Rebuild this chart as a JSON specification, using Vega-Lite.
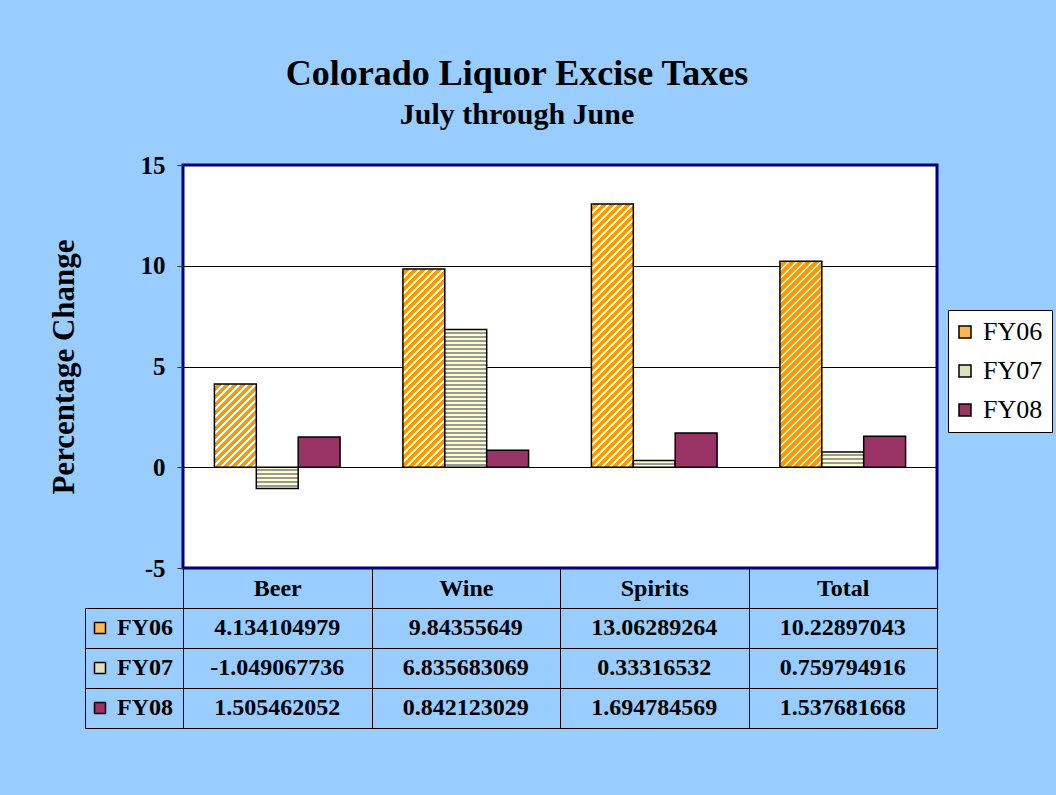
{
  "$schema": "https://vega.github.io/schema/vega-lite/v6.json",
  "background": "#99CCFF",
  "padding": {"left": 46, "top": 55, "right": 20, "bottom": 80},
  "bounds": "flush",
  "spacing": 40,
  "params": [
    {"name": "s06", "value": [
      {"offset":0,"color":"#fff"},{"offset":0.009,"color":"#fff"},{"offset":0.009,"color":"#f90"},{"offset":0.025,"color":"#f90"},
      {"offset":0.025,"color":"#fff"},{"offset":0.034,"color":"#fff"},{"offset":0.034,"color":"#f90"},{"offset":0.05,"color":"#f90"},
      {"offset":0.05,"color":"#fff"},{"offset":0.059,"color":"#fff"},{"offset":0.059,"color":"#f90"},{"offset":0.075,"color":"#f90"},
      {"offset":0.075,"color":"#fff"},{"offset":0.084,"color":"#fff"},{"offset":0.084,"color":"#f90"},{"offset":0.1,"color":"#f90"},
      {"offset":0.1,"color":"#fff"},{"offset":0.109,"color":"#fff"},{"offset":0.109,"color":"#f90"},{"offset":0.125,"color":"#f90"},
      {"offset":0.125,"color":"#fff"},{"offset":0.134,"color":"#fff"},{"offset":0.134,"color":"#f90"},{"offset":0.15,"color":"#f90"},
      {"offset":0.15,"color":"#fff"},{"offset":0.159,"color":"#fff"},{"offset":0.159,"color":"#f90"},{"offset":0.175,"color":"#f90"},
      {"offset":0.175,"color":"#fff"},{"offset":0.184,"color":"#fff"},{"offset":0.184,"color":"#f90"},{"offset":0.2,"color":"#f90"},
      {"offset":0.2,"color":"#fff"},{"offset":0.209,"color":"#fff"},{"offset":0.209,"color":"#f90"},{"offset":0.225,"color":"#f90"},
      {"offset":0.225,"color":"#fff"},{"offset":0.234,"color":"#fff"},{"offset":0.234,"color":"#f90"},{"offset":0.25,"color":"#f90"},
      {"offset":0.25,"color":"#fff"},{"offset":0.259,"color":"#fff"},{"offset":0.259,"color":"#f90"},{"offset":0.275,"color":"#f90"},
      {"offset":0.275,"color":"#fff"},{"offset":0.284,"color":"#fff"},{"offset":0.284,"color":"#f90"},{"offset":0.3,"color":"#f90"},
      {"offset":0.3,"color":"#fff"},{"offset":0.309,"color":"#fff"},{"offset":0.309,"color":"#f90"},{"offset":0.325,"color":"#f90"},
      {"offset":0.325,"color":"#fff"},{"offset":0.334,"color":"#fff"},{"offset":0.334,"color":"#f90"},{"offset":0.35,"color":"#f90"},
      {"offset":0.35,"color":"#fff"},{"offset":0.359,"color":"#fff"},{"offset":0.359,"color":"#f90"},{"offset":0.375,"color":"#f90"},
      {"offset":0.375,"color":"#fff"},{"offset":0.384,"color":"#fff"},{"offset":0.384,"color":"#f90"},{"offset":0.4,"color":"#f90"},
      {"offset":0.4,"color":"#fff"},{"offset":0.409,"color":"#fff"},{"offset":0.409,"color":"#f90"},{"offset":0.425,"color":"#f90"},
      {"offset":0.425,"color":"#fff"},{"offset":0.434,"color":"#fff"},{"offset":0.434,"color":"#f90"},{"offset":0.45,"color":"#f90"},
      {"offset":0.45,"color":"#fff"},{"offset":0.459,"color":"#fff"},{"offset":0.459,"color":"#f90"},{"offset":0.475,"color":"#f90"},
      {"offset":0.475,"color":"#fff"},{"offset":0.484,"color":"#fff"},{"offset":0.484,"color":"#f90"},{"offset":0.5,"color":"#f90"},
      {"offset":0.5,"color":"#fff"},{"offset":0.509,"color":"#fff"},{"offset":0.509,"color":"#f90"},{"offset":0.525,"color":"#f90"},
      {"offset":0.525,"color":"#fff"},{"offset":0.534,"color":"#fff"},{"offset":0.534,"color":"#f90"},{"offset":0.55,"color":"#f90"},
      {"offset":0.55,"color":"#fff"},{"offset":0.559,"color":"#fff"},{"offset":0.559,"color":"#f90"},{"offset":0.575,"color":"#f90"},
      {"offset":0.575,"color":"#fff"},{"offset":0.584,"color":"#fff"},{"offset":0.584,"color":"#f90"},{"offset":0.6,"color":"#f90"},
      {"offset":0.6,"color":"#fff"},{"offset":0.609,"color":"#fff"},{"offset":0.609,"color":"#f90"},{"offset":0.625,"color":"#f90"},
      {"offset":0.625,"color":"#fff"},{"offset":0.634,"color":"#fff"},{"offset":0.634,"color":"#f90"},{"offset":0.65,"color":"#f90"},
      {"offset":0.65,"color":"#fff"},{"offset":0.659,"color":"#fff"},{"offset":0.659,"color":"#f90"},{"offset":0.675,"color":"#f90"},
      {"offset":0.675,"color":"#fff"},{"offset":0.684,"color":"#fff"},{"offset":0.684,"color":"#f90"},{"offset":0.7,"color":"#f90"},
      {"offset":0.7,"color":"#fff"},{"offset":0.709,"color":"#fff"},{"offset":0.709,"color":"#f90"},{"offset":0.725,"color":"#f90"},
      {"offset":0.725,"color":"#fff"},{"offset":0.734,"color":"#fff"},{"offset":0.734,"color":"#f90"},{"offset":0.75,"color":"#f90"},
      {"offset":0.75,"color":"#fff"},{"offset":0.759,"color":"#fff"},{"offset":0.759,"color":"#f90"},{"offset":0.775,"color":"#f90"},
      {"offset":0.775,"color":"#fff"},{"offset":0.784,"color":"#fff"},{"offset":0.784,"color":"#f90"},{"offset":0.8,"color":"#f90"},
      {"offset":0.8,"color":"#fff"},{"offset":0.809,"color":"#fff"},{"offset":0.809,"color":"#f90"},{"offset":0.825,"color":"#f90"},
      {"offset":0.825,"color":"#fff"},{"offset":0.834,"color":"#fff"},{"offset":0.834,"color":"#f90"},{"offset":0.85,"color":"#f90"},
      {"offset":0.85,"color":"#fff"},{"offset":0.859,"color":"#fff"},{"offset":0.859,"color":"#f90"},{"offset":0.875,"color":"#f90"},
      {"offset":0.875,"color":"#fff"},{"offset":0.884,"color":"#fff"},{"offset":0.884,"color":"#f90"},{"offset":0.9,"color":"#f90"},
      {"offset":0.9,"color":"#fff"},{"offset":0.909,"color":"#fff"},{"offset":0.909,"color":"#f90"},{"offset":0.925,"color":"#f90"},
      {"offset":0.925,"color":"#fff"},{"offset":0.934,"color":"#fff"},{"offset":0.934,"color":"#f90"},{"offset":0.95,"color":"#f90"},
      {"offset":0.95,"color":"#fff"},{"offset":0.959,"color":"#fff"},{"offset":0.959,"color":"#f90"},{"offset":0.975,"color":"#f90"},
      {"offset":0.975,"color":"#fff"},{"offset":0.984,"color":"#fff"},{"offset":0.984,"color":"#f90"},{"offset":1,"color":"#f90"}
    ]},
    {"name": "s07", "value": [
      {"offset":0,"color":"#ffc"},{"offset":0.0135,"color":"#ffc"},{"offset":0.0135,"color":"#999"},{"offset":0.025,"color":"#999"},
      {"offset":0.025,"color":"#ffc"},{"offset":0.0385,"color":"#ffc"},{"offset":0.0385,"color":"#999"},{"offset":0.05,"color":"#999"},
      {"offset":0.05,"color":"#ffc"},{"offset":0.0635,"color":"#ffc"},{"offset":0.0635,"color":"#999"},{"offset":0.075,"color":"#999"},
      {"offset":0.075,"color":"#ffc"},{"offset":0.0885,"color":"#ffc"},{"offset":0.0885,"color":"#999"},{"offset":0.1,"color":"#999"},
      {"offset":0.1,"color":"#ffc"},{"offset":0.1135,"color":"#ffc"},{"offset":0.1135,"color":"#999"},{"offset":0.125,"color":"#999"},
      {"offset":0.125,"color":"#ffc"},{"offset":0.1385,"color":"#ffc"},{"offset":0.1385,"color":"#999"},{"offset":0.15,"color":"#999"},
      {"offset":0.15,"color":"#ffc"},{"offset":0.1635,"color":"#ffc"},{"offset":0.1635,"color":"#999"},{"offset":0.175,"color":"#999"},
      {"offset":0.175,"color":"#ffc"},{"offset":0.1885,"color":"#ffc"},{"offset":0.1885,"color":"#999"},{"offset":0.2,"color":"#999"},
      {"offset":0.2,"color":"#ffc"},{"offset":0.2135,"color":"#ffc"},{"offset":0.2135,"color":"#999"},{"offset":0.225,"color":"#999"},
      {"offset":0.225,"color":"#ffc"},{"offset":0.2385,"color":"#ffc"},{"offset":0.2385,"color":"#999"},{"offset":0.25,"color":"#999"},
      {"offset":0.25,"color":"#ffc"},{"offset":0.2635,"color":"#ffc"},{"offset":0.2635,"color":"#999"},{"offset":0.275,"color":"#999"},
      {"offset":0.275,"color":"#ffc"},{"offset":0.2885,"color":"#ffc"},{"offset":0.2885,"color":"#999"},{"offset":0.3,"color":"#999"},
      {"offset":0.3,"color":"#ffc"},{"offset":0.3135,"color":"#ffc"},{"offset":0.3135,"color":"#999"},{"offset":0.325,"color":"#999"},
      {"offset":0.325,"color":"#ffc"},{"offset":0.3385,"color":"#ffc"},{"offset":0.3385,"color":"#999"},{"offset":0.35,"color":"#999"},
      {"offset":0.35,"color":"#ffc"},{"offset":0.3635,"color":"#ffc"},{"offset":0.3635,"color":"#999"},{"offset":0.375,"color":"#999"},
      {"offset":0.375,"color":"#ffc"},{"offset":0.3885,"color":"#ffc"},{"offset":0.3885,"color":"#999"},{"offset":0.4,"color":"#999"},
      {"offset":0.4,"color":"#ffc"},{"offset":0.4135,"color":"#ffc"},{"offset":0.4135,"color":"#999"},{"offset":0.425,"color":"#999"},
      {"offset":0.425,"color":"#ffc"},{"offset":0.4385,"color":"#ffc"},{"offset":0.4385,"color":"#999"},{"offset":0.45,"color":"#999"},
      {"offset":0.45,"color":"#ffc"},{"offset":0.4635,"color":"#ffc"},{"offset":0.4635,"color":"#999"},{"offset":0.475,"color":"#999"},
      {"offset":0.475,"color":"#ffc"},{"offset":0.4885,"color":"#ffc"},{"offset":0.4885,"color":"#999"},{"offset":0.5,"color":"#999"},
      {"offset":0.5,"color":"#ffc"},{"offset":0.5135,"color":"#ffc"},{"offset":0.5135,"color":"#999"},{"offset":0.525,"color":"#999"},
      {"offset":0.525,"color":"#ffc"},{"offset":0.5385,"color":"#ffc"},{"offset":0.5385,"color":"#999"},{"offset":0.55,"color":"#999"},
      {"offset":0.55,"color":"#ffc"},{"offset":0.5635,"color":"#ffc"},{"offset":0.5635,"color":"#999"},{"offset":0.575,"color":"#999"},
      {"offset":0.575,"color":"#ffc"},{"offset":0.5885,"color":"#ffc"},{"offset":0.5885,"color":"#999"},{"offset":0.6,"color":"#999"},
      {"offset":0.6,"color":"#ffc"},{"offset":0.6135,"color":"#ffc"},{"offset":0.6135,"color":"#999"},{"offset":0.625,"color":"#999"},
      {"offset":0.625,"color":"#ffc"},{"offset":0.6385,"color":"#ffc"},{"offset":0.6385,"color":"#999"},{"offset":0.65,"color":"#999"},
      {"offset":0.65,"color":"#ffc"},{"offset":0.6635,"color":"#ffc"},{"offset":0.6635,"color":"#999"},{"offset":0.675,"color":"#999"},
      {"offset":0.675,"color":"#ffc"},{"offset":0.6885,"color":"#ffc"},{"offset":0.6885,"color":"#999"},{"offset":0.7,"color":"#999"},
      {"offset":0.7,"color":"#ffc"},{"offset":0.7135,"color":"#ffc"},{"offset":0.7135,"color":"#999"},{"offset":0.725,"color":"#999"},
      {"offset":0.725,"color":"#ffc"},{"offset":0.7385,"color":"#ffc"},{"offset":0.7385,"color":"#999"},{"offset":0.75,"color":"#999"},
      {"offset":0.75,"color":"#ffc"},{"offset":0.7635,"color":"#ffc"},{"offset":0.7635,"color":"#999"},{"offset":0.775,"color":"#999"},
      {"offset":0.775,"color":"#ffc"},{"offset":0.7885,"color":"#ffc"},{"offset":0.7885,"color":"#999"},{"offset":0.8,"color":"#999"},
      {"offset":0.8,"color":"#ffc"},{"offset":0.8135,"color":"#ffc"},{"offset":0.8135,"color":"#999"},{"offset":0.825,"color":"#999"},
      {"offset":0.825,"color":"#ffc"},{"offset":0.8385,"color":"#ffc"},{"offset":0.8385,"color":"#999"},{"offset":0.85,"color":"#999"},
      {"offset":0.85,"color":"#ffc"},{"offset":0.8635,"color":"#ffc"},{"offset":0.8635,"color":"#999"},{"offset":0.875,"color":"#999"},
      {"offset":0.875,"color":"#ffc"},{"offset":0.8885,"color":"#ffc"},{"offset":0.8885,"color":"#999"},{"offset":0.9,"color":"#999"}
    ]},
    {"name": "sw06", "value": {"gradient": "linear", "x1": 0, "y1": 0, "x2": 1, "y2": 1, "stops": [
      {"offset":0,"color":"#f90"},{"offset":0.42,"color":"#f90"},{"offset":0.42,"color":"#fff"},{"offset":0.6,"color":"#fff"},{"offset":0.6,"color":"#f90"},{"offset":1,"color":"#f90"}
    ]}},
    {"name": "sw07", "value": {"gradient": "linear", "x1": 0, "y1": 0, "x2": 0, "y2": 1, "stops": [
      {"offset":0,"color":"#ffc"},{"offset":0.25,"color":"#ffc"},{"offset":0.25,"color":"#999"},{"offset":0.42,"color":"#999"},{"offset":0.42,"color":"#ffc"},{"offset":0.66,"color":"#ffc"},{"offset":0.66,"color":"#999"},{"offset":0.83,"color":"#999"},{"offset":0.83,"color":"#ffc"},{"offset":1,"color":"#ffc"}
    ]}}
  ],
  "title": {
    "text": "Colorado Liquor Excise Taxes",
    "subtitle": "July through June",
    "font": "Liberation Serif",
    "fontSize": 36,
    "fontWeight": "bold",
    "color": "black",
    "subtitleFont": "Liberation Serif",
    "subtitleFontSize": 30,
    "subtitleFontWeight": "bold",
    "subtitleColor": "black",
    "subtitlePadding": 7,
    "anchor": "middle",
    "frame": "group",
    "dx": -43,
    "offset": 21
  },
  "datasets": {
    "taxes": [
      {"category": "Beer", "series": "FY06", "value": 4.134104979},
      {"category": "Beer", "series": "FY07", "value": -1.049067736},
      {"category": "Beer", "series": "FY08", "value": 1.505462052},
      {"category": "Wine", "series": "FY06", "value": 9.84355649},
      {"category": "Wine", "series": "FY07", "value": 6.835683069},
      {"category": "Wine", "series": "FY08", "value": 0.842123029},
      {"category": "Spirits", "series": "FY06", "value": 13.06289264},
      {"category": "Spirits", "series": "FY07", "value": 0.33316532},
      {"category": "Spirits", "series": "FY08", "value": 1.694784569},
      {"category": "Total", "series": "FY06", "value": 10.22897043},
      {"category": "Total", "series": "FY07", "value": 0.759794916},
      {"category": "Total", "series": "FY08", "value": 1.537681668}
    ]
  },
  "resolve": {"legend": {"fill": "independent"}},
  "vconcat": [
    {
      "width": 754,
      "height": 403,
      "data": {"name": "taxes"},
      "view": {"fill": "white", "stroke": "#000080", "strokeWidth": 3},
      "mark": {"type": "bar", "stroke": "black", "strokeWidth": 1.5},
      "encoding": {
        "x": {
          "field": "category", "type": "nominal",
          "sort": ["Beer", "Wine", "Spirits", "Total"],
          "scale": {"paddingInner": 0, "paddingOuter": 0},
          "axis": {
            "title": null, "orient": "bottom", "tickBand": "extent",
            "tickSize": 40, "tickColor": "black", "tickWidth": 1,
            "domain": false, "grid": false,
            "labelFont": "Liberation Serif", "labelFontSize": 24, "labelFontWeight": "bold",
            "labelColor": "black", "labelPadding": -20, "labelBaseline": "middle", "labelAngle": 0
          }
        },
        "xOffset": {
          "field": "series", "type": "nominal",
          "sort": ["FY06", "FY07", "FY08"],
          "scale": {"paddingInner": 0, "paddingOuter": 0.75}
        },
        "y": {
          "field": "value", "type": "quantitative",
          "scale": {"domain": [-5, 15], "nice": false},
          "axis": {
            "values": [-5, 0, 5, 10, 15],
            "labelExpr": "'' + datum.value",
            "title": "Percentage Change",
            "titleFont": "Liberation Serif", "titleFontSize": 31, "titleFontWeight": "bold",
            "titleColor": "black", "titlePadding": 60,
            "labelFont": "Liberation Serif", "labelFontSize": 25, "labelFontWeight": "bold",
            "labelColor": "black", "labelPadding": 12,
            "tickSize": 6, "tickColor": "#333333", "tickWidth": 1,
            "domain": false,
            "grid": true,
            "gridColor": {"condition": {"test": "datum.value == 15 || datum.value == -5", "value": "#000080"}, "value": "black"},
            "gridOpacity": 1, "gridWidth": 1
          }
        },
        "fill": {
          "condition": [
            {"test": "datum.series === 'FY06'", "value": {"expr": "{gradient: 'linear', x1: 0, y1: 0, x2: 41.89 * 320 / (1754.77 + pow(datum.value * 20.15, 2)), y2: abs(datum.value) * 20.15 * 320 / (1754.77 + pow(datum.value * 20.15, 2)), stops: s06}"}},
            {"test": "datum.series === 'FY07'", "value": {"expr": "{gradient: 'linear', x1: 0, y1: 0, x2: 0, y2: 160 / (abs(datum.value) * 20.15), stops: s07}"}}
          ],
          "field": "series", "type": "nominal",
          "scale": {"domain": ["FY06", "FY07", "FY08"], "range": ["#FFB84D", "#DEDEC0", "#993366"]},
          "legend": {
            "orient": "none", "legendX": 765, "legendY": 145,
            "title": null, "fillColor": "white", "strokeColor": "black", "padding": 9,
            "labelFont": "Liberation Serif", "labelFontSize": 26, "labelFontWeight": "normal",
            "labelColor": "black", "labelOffset": 5, "symbolOffset": -5,
            "symbolType": "square", "symbolSize": 144, "symbolStrokeColor": "black",
            "symbolStrokeWidth": 1.5, "rowPadding": 13,
            "encoding": {"symbols": {
              "fill": {"value": {"expr": "datum.value === 'FY06' ? sw06 : datum.value === 'FY07' ? sw07 : '#993366'"}},
              "stroke": {"value": "black"},
              "strokeWidth": {"value": 1.5}
            }}
          }
        }
      }
    },
    {
      "width": 754,
      "height": 120,
      "data": {"name": "taxes"},
      "view": {"fill": null, "stroke": "black", "strokeWidth": 1},
      "encoding": {
        "x": {
          "field": "category", "type": "nominal",
          "sort": ["Beer", "Wine", "Spirits", "Total"],
          "scale": {"paddingInner": 0, "paddingOuter": 0},
          "axis": {
            "title": null, "labels": false, "ticks": false, "domain": false,
            "grid": true, "tickBand": "extent", "gridColor": "black", "gridOpacity": 1, "gridWidth": 1
          }
        },
        "y": {
          "field": "series", "type": "nominal",
          "sort": ["FY06", "FY07", "FY08"],
          "scale": {"paddingInner": 0, "paddingOuter": 0},
          "axis": {
            "title": null, "labels": false, "grid": true, "tickBand": "extent",
            "gridColor": "black", "gridOpacity": 1, "gridWidth": 1,
            "ticks": true, "tickSize": -98, "tickColor": "black", "tickWidth": 1,
            "domain": true, "domainColor": "black", "domainWidth": 1, "offset": 98
          }
        }
      },
      "layer": [
        {
          "mark": {"type": "rect", "opacity": 0},
          "encoding": {
            "fill": {
              "field": "series", "type": "nominal",
              "scale": {"domain": ["FY06", "FY07", "FY08"], "range": ["#FFB84D", "#DEDEC0", "#993366"]},
              "legend": {
                "orient": "none", "legendX": -95, "legendY": 8,
                "title": null, "padding": 0,
                "labelFont": "Liberation Serif", "labelFontSize": 24, "labelFontWeight": "bold",
                "labelColor": "black", "labelOffset": 5,
                "symbolType": "square", "symbolSize": 121, "symbolStrokeColor": "black",
                "symbolStrokeWidth": 1.5, "rowPadding": 16, "symbolOpacity": 1,
                "encoding": {"symbols": {
                  "opacity": {"value": 1},
                  "fillOpacity": {"value": 1},
                  "strokeOpacity": {"value": 1},
                  "fill": {"value": {"expr": "datum.value === 'FY06' ? sw06 : datum.value === 'FY07' ? sw07 : '#993366'"}},
                  "stroke": {"value": "black"},
                  "strokeWidth": {"value": 1.5}
                }}
              }
            }
          }
        },
        {
          "mark": {"type": "text", "font": "Liberation Serif", "fontSize": 24, "fontWeight": "bold", "color": "black"},
          "encoding": {
            "text": {"field": "value", "type": "nominal"}
          }
        }
      ]
    }
  ],
  "config": {
    "font": "Liberation Serif",
    "view": {"stroke": null},
    "legend": {"labelFont": "Liberation Serif"}
  }
}
